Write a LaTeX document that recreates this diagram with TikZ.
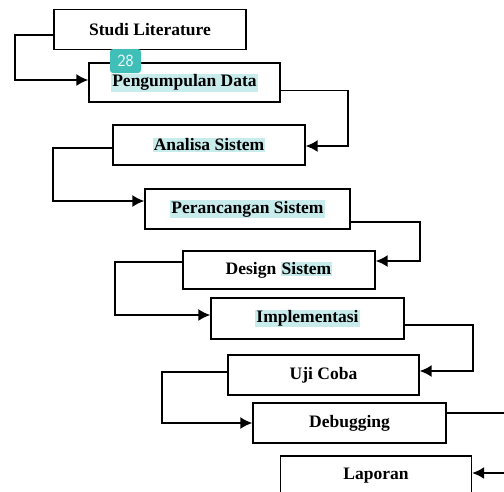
\documentclass[tikz,border=0pt]{standalone}
\usepackage{fontspec}
\setmainfont{Liberation Serif}
\usetikzlibrary{arrows.meta, positioning}
\usepackage{xcolor}

\definecolor{hlcyan}{RGB}{200,236,236}
\definecolor{badge}{RGB}{64,190,184}
\newcommand{\hilite}[1]{{\setlength{\fboxsep}{1pt}\colorbox{hlcyan}{#1}}}

\begin{document}
\begin{tikzpicture}[x=1pt,y=-1pt]
                    \tikzstyle{stage} = [
	shape=rectangle,
	draw=black, %border of the box
	fill=white,
	line width=1.3pt,
	minimum width=192pt,
	minimum height=40pt,
	inner sep=0pt,
	font=\fontsize{17.5}{19}\selectfont\bfseries
];
                    \tikzstyle{flow} = [
	-{Latex[length=12pt,width=12pt]},
	line width=1.8pt,
	color=black
];

\useasboundingbox (0,0) rectangle (504,491);

%the stages
\node[stage](studi) at (150,29.5) {Studi Literature};
\node[stage, minimum width=191pt, minimum height=39pt](kumpul) at (184.5,82.5) {\hilite{Pengumpulan Data}};
\node[stage](analisa) at (209,145) {\hilite{Analisa Sistem}};
\node[stage, minimum width=205pt](rancang) at (247.5,209) {\hilite{Perancangan Sistem}};
\node[stage, minimum height=38pt](design) at (279,270) {Design \hilite{Sistem}};
\node[stage, minimum width=193pt, minimum height=41pt](implem) at (307.5,318.5) {\hilite{Implementasi}};
\node[stage, minimum width=191pt](uji) at (323.5,375) {Uji Coba};
\node[stage, minimum width=193pt](debug) at (349.5,423) {Debugging};
\node[stage, minimum width=191pt](laporan) at (376,476) {Laporan};

%page tag
\node[fill=badge, rounded corners=3pt, minimum width=31pt, minimum height=24pt, inner sep=0pt,
	text=white, font=\sffamily\fontsize{17}{19}\selectfont](tag) at (125.5,61) {28};

%ends off the page
\coordinate (outR) at (504,413);
\coordinate (inR) at (504,473);

%left turns
\draw[flow] ([yshift=-5.5pt]studi.west) -- ++(-38,0) |- ([yshift=2.5pt]kumpul.west);
\draw[flow] ([yshift=-3pt]analisa.west) -- ++(-59,0) |- ([yshift=8pt]rancang.west);
\draw[flow] ([yshift=8pt]design.west) -- ++(-67,0) |- ([yshift=3.5pt]implem.west);
\draw[flow] ([yshift=3pt]uji.west) -- ++(-65,0) |- (debug.west);

%right turns
\draw[flow] ([yshift=-8pt]kumpul.east) -- ++(67,0) |- ([yshift=-1pt]analisa.east);
\draw[flow] ([yshift=-13pt]rancang.east) -- ++(69,0) |- ([yshift=9pt]design.east);
\draw[flow] ([yshift=-6.5pt]implem.east) -- ++(68,0) |- ([yshift=4pt]uji.east);
\draw[line width=1.6pt] ([yshift=10pt]debug.east) -- (outR);
\draw[flow] (inR) -- ([yshift=3pt]laporan.east);

                \end{tikzpicture}
\end{document}
